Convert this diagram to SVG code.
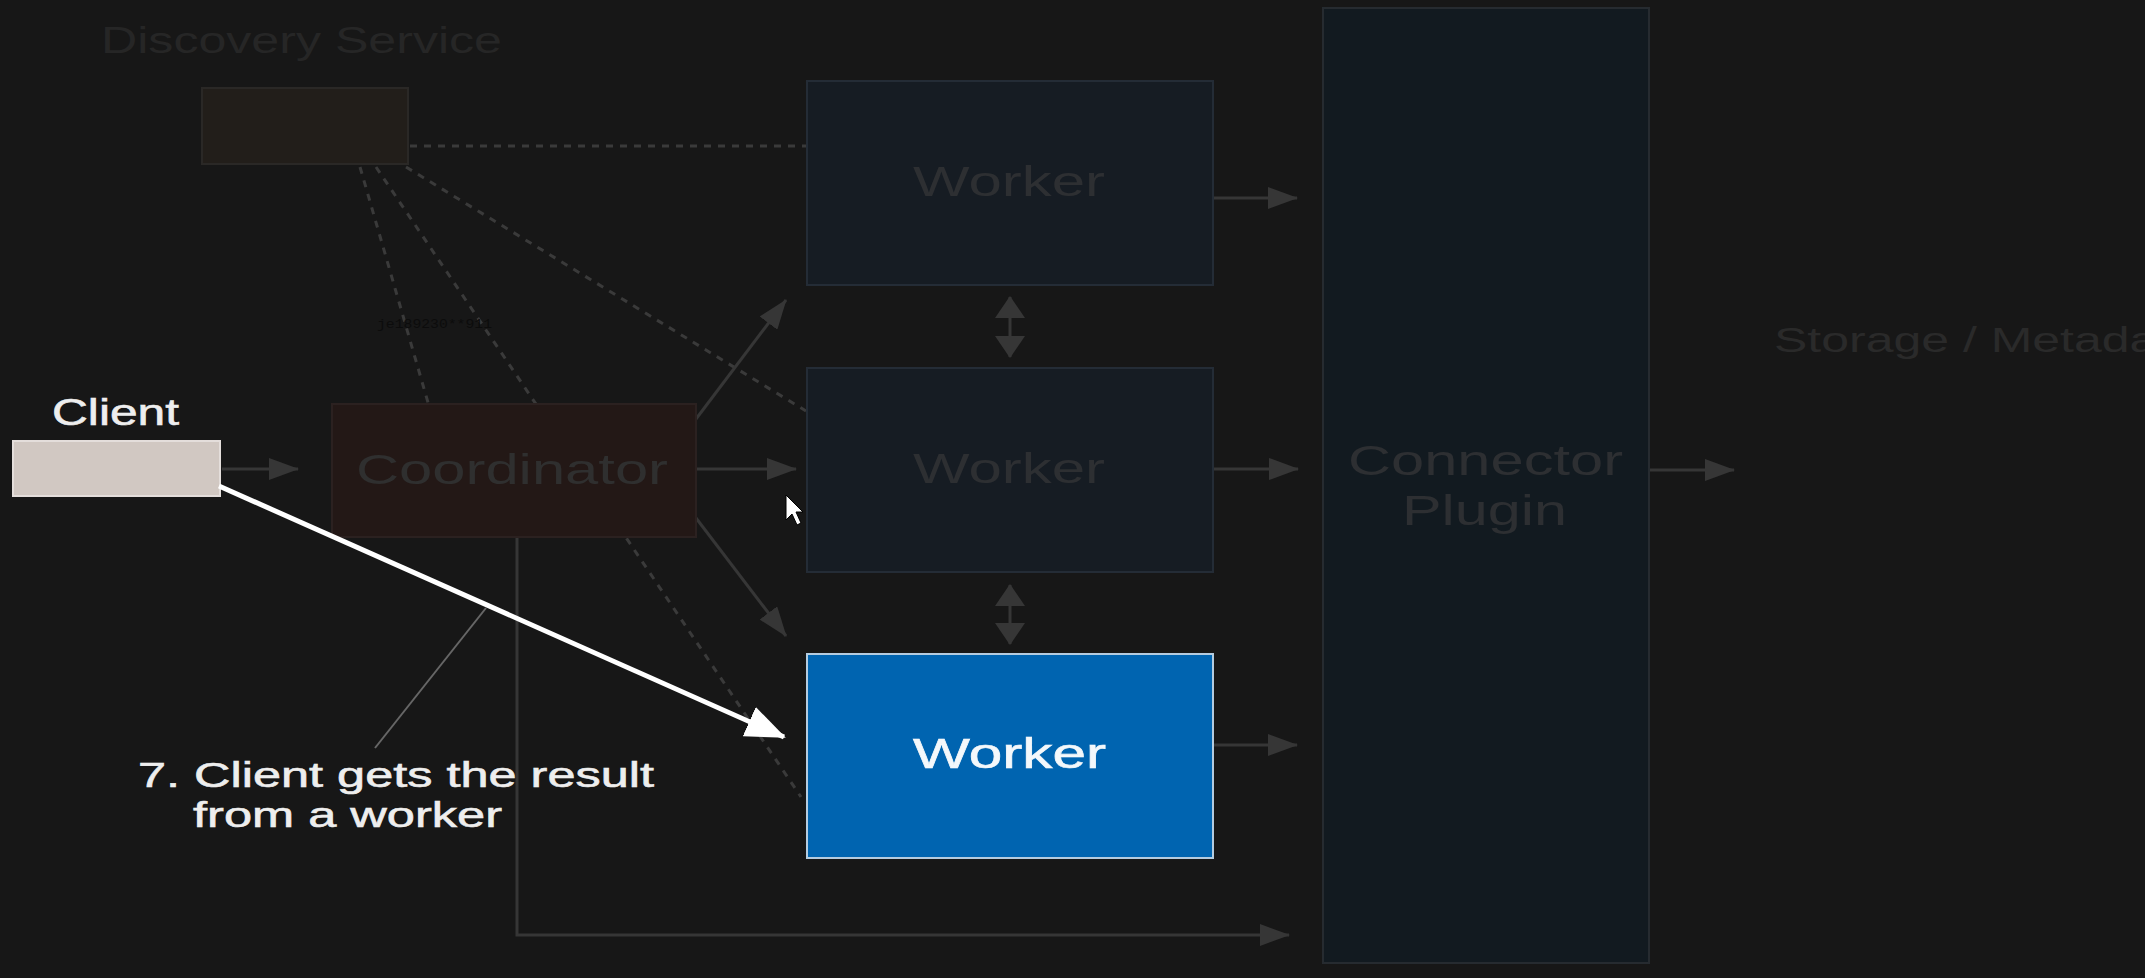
<svg xmlns="http://www.w3.org/2000/svg" width="2145" height="978" viewBox="0 0 2145 978">
<defs>
<style>
text{font-family:"Liberation Sans",Arial,sans-serif}
.dim{fill:#2d2f32}
.gl{stroke:#363636;stroke-width:3;fill:none}
.dash{stroke:#3a3a3a;stroke-width:3;fill:none;stroke-dasharray:7 7}
.wk{fill:#161c23;stroke:#242c36;stroke-width:2}
.lt{fill:#eeeeee;stroke:#eeeeee;stroke-width:0.6}
</style>
<marker id="ah" markerUnits="userSpaceOnUse" markerWidth="30" markerHeight="22" refX="29" refY="11" orient="auto-start-reverse"><path d="M0,0 L30,11 L0,22 Z" fill="#363636"/></marker>
<marker id="ahd" markerUnits="userSpaceOnUse" markerWidth="22" markerHeight="30" refX="21" refY="15" orient="auto-start-reverse"><path d="M0,0 L22,15 L0,30 Z" fill="#363636"/></marker>
<marker id="ahw" markerUnits="userSpaceOnUse" markerWidth="40" markerHeight="32" refX="38" refY="16" orient="auto"><path d="M0,0 L40,16 L0,32 Z" fill="#ffffff"/></marker>
</defs>
<rect width="2145" height="978" fill="#171717"/>

<g id="discovery">
<text x="101" y="53" font-size="37" fill="#262626" textLength="401" lengthAdjust="spacingAndGlyphs">Discovery Service</text>
<rect x="202" y="88" width="206" height="76" fill="#221e1a" stroke="#2a2826" stroke-width="2"/>
</g>

<g id="connectors">
<line class="dash" x1="410" y1="146" x2="807" y2="146"/>
<line class="dash" x1="360" y1="167" x2="429" y2="406"/>
<line class="dash" x1="376" y1="167" x2="801" y2="797"/>
<line class="dash" x1="406" y1="167" x2="806" y2="411"/>
<line class="gl" x1="222" y1="469" x2="298" y2="469" marker-end="url(#ah)"/>
<line class="gl" x1="696" y1="419" x2="786" y2="300" marker-end="url(#ah)"/>
<line class="gl" x1="696" y1="469" x2="796" y2="469" marker-end="url(#ah)"/>
<line class="gl" x1="696" y1="518" x2="786" y2="636" marker-end="url(#ah)"/>
<line class="gl" x1="1213" y1="198" x2="1297" y2="198" marker-end="url(#ah)"/>
<line class="gl" x1="1213" y1="469" x2="1298" y2="469" marker-end="url(#ah)"/>
<line class="gl" x1="1213" y1="745" x2="1297" y2="745" marker-end="url(#ah)"/>
<line class="gl" x1="1649" y1="470" x2="1734" y2="470" marker-end="url(#ah)"/>
<polyline class="gl" points="517,537 517,935 1289,935" marker-end="url(#ah)"/>
<line class="gl" x1="1010" y1="297" x2="1010" y2="357" marker-start="url(#ahd)" marker-end="url(#ahd)"/>
<line class="gl" x1="1010" y1="585" x2="1010" y2="644" marker-start="url(#ahd)" marker-end="url(#ahd)"/>
</g>

<g id="client">
<text x="52" y="425" font-size="36" class="lt" textLength="127" lengthAdjust="spacingAndGlyphs">Client</text>
<rect x="13" y="441" width="207" height="55" fill="#d1c8c2" stroke="#e4dedb" stroke-width="2"/>
</g>

<g id="coordinator">
<rect x="332" y="404" width="364" height="133" fill="#231816" stroke="#2b2120" stroke-width="2"/>
<text x="356" y="484" font-size="42" fill="#2f2f2f" textLength="312" lengthAdjust="spacingAndGlyphs">Coordinator</text>
</g>

<g id="worker1">
<rect class="wk" x="807" y="81" width="406" height="204"/>
<text x="913" y="196" font-size="42" class="dim" textLength="192" lengthAdjust="spacingAndGlyphs">Worker</text>
</g>
<g id="worker2">
<rect class="wk" x="807" y="368" width="406" height="204"/>
<text x="913" y="483" font-size="42" class="dim" textLength="192" lengthAdjust="spacingAndGlyphs">Worker</text>
</g>
<g id="worker3">
<rect x="807" y="654" width="406" height="204" fill="#0064b0" stroke="#b4cce0" stroke-width="2"/>
<text x="913" y="768" font-size="42" fill="#f4f8fb" stroke="#f4f8fb" stroke-width="0.6" textLength="193" lengthAdjust="spacingAndGlyphs">Worker</text>
</g>

<g id="connector-plugin">
<rect x="1323" y="8" width="326" height="955" fill="#121a20" stroke="#262b30" stroke-width="2"/>
<text x="1348" y="475" font-size="42" class="dim" textLength="275" lengthAdjust="spacingAndGlyphs">Connector</text>
<text x="1402" y="525" font-size="42" class="dim" textLength="165" lengthAdjust="spacingAndGlyphs">Plugin</text>
</g>

<g id="storage">
<text x="1774" y="352" font-size="35" fill="#2a2a2a" textLength="425" lengthAdjust="spacingAndGlyphs">Storage / Metadata</text>
</g>

<g id="result-arrow">
<line x1="219" y1="486" x2="784" y2="737" stroke="#ffffff" stroke-width="5" marker-end="url(#ahw)"/>
</g>

<g id="annotation">
<line x1="486" y1="608" x2="375" y2="748" stroke="#666666" stroke-width="2"/>
<text x="138" y="787" font-size="35" class="lt" textLength="516" lengthAdjust="spacingAndGlyphs">7. Client gets the result</text>
<text x="193" y="827" font-size="35" class="lt" textLength="309" lengthAdjust="spacingAndGlyphs">from a worker</text>
</g>

<text x="377" y="328" font-size="13" fill="#0c0c0c" textLength="115" lengthAdjust="spacingAndGlyphs" style="font-family:'Liberation Mono',monospace">je189230**911</text>

<polygon points="786,495 786,520 792,514 797,525 801,523 796,512 803,512" fill="#ffffff" stroke="#000000" stroke-width="1"/>
</svg>
